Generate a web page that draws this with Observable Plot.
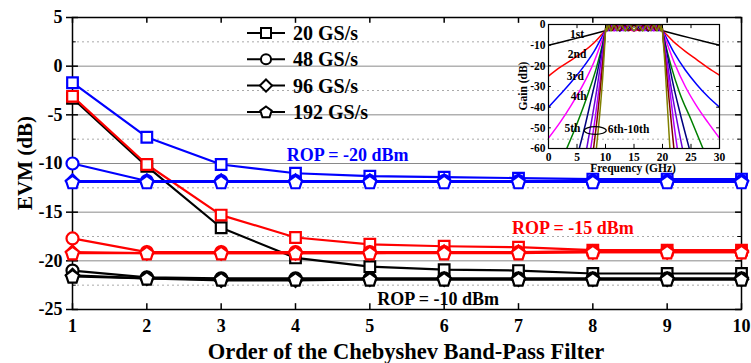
<!DOCTYPE html>
<html><head><meta charset="utf-8">
<script src="https://cdn.jsdelivr.net/npm/d3@7"></script>
<script src="https://cdn.jsdelivr.net/npm/@observablehq/plot@0.6"></script>
<style>
body{margin:0;background:#fff;}
#wrap{position:relative;width:751px;height:363px;overflow:hidden;}
#wrap > *{position:absolute;}
</style></head><body><div id="wrap"></div>
<script>
// ---------------- data ----------------
const orders = [1, 2, 3, 4, 5, 6, 7, 8, 9, 10];
const rates = ["20 GS/s", "48 GS/s", "96 GS/s", "192 GS/s"];
const ropLabels = ["ROP = -10 dBm", "ROP = -15 dBm", "ROP = -20 dBm"];
const yTicks = [5, 0, -5, -10, -15, -20, -25];
const yMajorGrid = [0, -5, -10, -15, -20];
const yMinorGrid = [2.5, -2.5, -7.5, -12.5, -17.5, -22.5];

// ROP = -10 dBm (black)
const evm10_20 = [-3.3, -10.3, -16.6, -19.7, -20.6, -20.9, -21.0, -21.3, -21.3, -21.3];
const evm10_48 = [-21.0, -21.7, -21.8, -21.8, -21.8, -21.8, -21.8, -21.8, -21.8, -21.8];
const evm10_96 = [-21.5, -21.8, -22.0, -22.0, -21.9, -21.9, -21.9, -21.9, -21.9, -21.9];
const evm10_192 = [-21.6, -21.8, -21.9, -21.9, -21.9, -21.9, -21.9, -21.9, -21.9, -21.9];
// ROP = -15 dBm (red)
const evm15_20 = [-3.1, -10.1, -15.3, -17.6, -18.3, -18.5, -18.6, -18.9, -18.9, -18.9];
const evm15_48 = [-17.7, -19.1, -19.1, -19.1, -19.1, -19.1, -19.1, -19.0, -19.0, -19.0];
const evm15_96 = [-19.1, -19.2, -19.2, -19.2, -19.2, -19.1, -19.1, -19.1, -19.1, -19.1];
const evm15_192 = [-19.2, -19.2, -19.2, -19.2, -19.2, -19.2, -19.2, -19.1, -19.1, -19.1];
// ROP = -20 dBm (blue)
const evm20_20 = [-1.7, -7.3, -10.1, -11.0, -11.3, -11.4, -11.5, -11.6, -11.6, -11.6];
const evm20_48 = [-10.0, -11.8, -11.8, -11.8, -11.8, -11.8, -11.8, -11.8, -11.8, -11.8];
const evm20_96 = [-11.8, -11.8, -11.8, -11.8, -11.8, -11.8, -11.8, -11.8, -11.8, -11.8];
const evm20_192 = [-11.9, -11.9, -11.9, -11.9, -11.9, -11.9, -11.9, -11.9, -11.9, -11.9];

// inset: filter gain (dB) vs frequency (GHz), [f, g] pairs per order
const insetOrders = ["1st", "2nd", "3rd", "4th", "5th", "6th", "7th", "8th", "9th", "10th"];
const gain1 = [[0,-10],[2.5,-8.3],[5,-6.6],[7.5,-4.8],[10,-3],[15,0],[20,-3],[22.5,-4.8],[25,-6.6],[27.5,-8.3],[30,-10]];
const gain2 = [[0,-25],[2,-20.8],[4,-17.2],[6,-13.4],[8,-8.8],[10,-3],[11.5,0],[15,-3],[18.5,0],[20,-3],[22,-8.5],[24,-13],[26,-17],[28,-21],[30,-24.5]];
const gain3 = [[0,-40],[2,-34],[4,-27.8],[6,-21],[8,-13],[10,-3],[10.7,0],[12.5,-3],[15,0],[17.5,-3],[19.3,0],[20,-3],[22,-13.5],[24,-22],[26,-29],[28,-35],[30,-40]];
const gain4 = [[0,-55],[2,-47.5],[4,-39],[6,-29.5],[8,-18],[10,-3],[10.4,0],[11.5,-3],[13.1,0],[15,-3],[16.9,0],[18.5,-3],[19.6,0],[20,-3],[22,-18],[24,-30],[26,-39.5],[28,-47.5],[30,-55]];
const gain5 = [[3.2,-60],[5,-48],[7,-33],[8.5,-20],[10,-3],[10.2,0],[11,-3],[12.1,0],[13.5,-3],[15,0],[16.5,-3],[17.9,0],[19,-3],[19.8,0],[20,-3],[21.5,-20],[23,-33],[25,-46],[27.1,-60]];
const gain6 = [[5.4,-60],[6.5,-48],[7.5,-36],[8.5,-24],[9.3,-13],[10,-3],[10.2,0],[10.7,-3],[11.5,0],[12.5,-3],[13.7,0],[15,-3],[16.3,0],[17.5,-3],[18.5,0],[19.3,-3],[19.8,0],[20,-3],[20.8,-14],[21.8,-28],[23,-42],[24.7,-60]];
const gain7 = [[6.7,-60],[7.6,-46],[8.5,-31],[9.3,-16],[10,-3],[10.1,0],[10.5,-3],[11.1,0],[11.9,-3],[12.8,0],[13.9,-3],[15,0],[16.1,-3],[17.2,0],[18.1,-3],[18.9,0],[19.5,-3],[19.9,0],[20,-3],[20.7,-16],[21.6,-32],[22.5,-46],[23.5,-60]];
const gain8 = [[7.4,-60],[8.2,-45],[9,-28],[9.6,-14],[10,-3],[10.1,0],[10.4,-3],[10.8,0],[11.5,-3],[12.2,0],[13.1,-3],[14,0],[15,-3],[16,0],[16.9,-3],[17.8,0],[18.5,-3],[19.2,0],[19.6,-3],[19.9,0],[20,-3],[20.6,-16],[21.3,-32],[21.9,-46],[22.6,-60]];
const gain9 = [[7.9,-60],[8.6,-44],[9.2,-28],[9.7,-13],[10,-3],[10.08,0],[10.3,-3],[10.7,0],[11.2,-3],[11.8,0],[12.5,-3],[13.3,0],[14.1,-3],[15,0],[15.9,-3],[16.7,0],[17.5,-3],[18.2,0],[18.8,-3],[19.3,0],[19.7,-3],[19.92,0],[20,-3],[20.5,-17],[21,-32],[21.5,-46],[22,-60]];
const gain10 = [[8.4,-60],[9,-43],[9.5,-26],[9.8,-13],[10,-3],[10.06,0],[10.24,-3],[10.54,0],[10.95,-3],[11.46,0],[12.06,-3],[12.73,0],[13.45,-3],[14.22,0],[15,-3],[15.78,0],[16.55,-3],[17.27,0],[17.94,-3],[18.54,0],[19.05,-3],[19.46,0],[19.76,-3],[19.94,0],[20,-3],[20.4,-18],[20.7,-32],[21,-46],[21.3,-60]];
const insetXTicks = [0, 5, 10, 15, 20, 25, 30];
const insetYTicks = [0, -10, -20, -30, -40, -50, -60];
const insetLabels = ["1st", "2nd", "3rd", "4th", "5th", "6th-10th"];

// ---------------- styling / assembly ----------------
const FONT = "'Liberation Serif','Times New Roman',serif";
const ropColors = ["#000000", "#ff0000", "#0000ff"];
const orderColors = ["#000000","#ff0000","#0000ff","#ff00ff","#008000","#000080","#6a00d8","#b000ff","#800000","#808000"];

const pentagon = {
  draw(ctx, size) {
    const r = Math.sqrt(size / 2.378);
    for (let i = 0; i < 5; i++) {
      const a = -Math.PI / 2 + i * 2 * Math.PI / 5;
      const x = r * Math.cos(a), y = r * Math.sin(a) + r * 0.1;
      if (i === 0) ctx.moveTo(x, y); else ctx.lineTo(x, y);
    }
    ctx.closePath();
  }
};
const ellipse = {
  draw(ctx) {
    const rx = 11, ry = 3.8, k = 0.5523;
    ctx.moveTo(rx, 0);
    ctx.bezierCurveTo(rx, ry * k, rx * k, ry, 0, ry);
    ctx.bezierCurveTo(-rx * k, ry, -rx, ry * k, -rx, 0);
    ctx.bezierCurveTo(-rx, -ry * k, -rx * k, -ry, 0, -ry);
    ctx.bezierCurveTo(rx * k, -ry, rx, -ry * k, rx, 0);
    ctx.closePath();
  }
};
const rateSymbols = ["square", "circle", "diamond2", pentagon];

const evmByRop = [
  [evm10_20, evm10_48, evm10_96, evm10_192],
  [evm15_20, evm15_48, evm15_96, evm15_192],
  [evm20_20, evm20_48, evm20_96, evm20_192]
];
const seriesList = [];
evmByRop.forEach((group, ri) => group.forEach((vals, si) => {
  seriesList.push({
    key: ri * 4 + si, color: ropColors[ri], symbol: rateSymbols[si],
    rows: orders.map((o, i) => ({order: o, evm: vals[i], key: ri * 4 + si, color: ropColors[ri]}))
  });
}));
const allRows = seriesList.flatMap(s => s.rows);

const annotations = [
  {text: ropLabels[2], x: 4.70, y: -9.2, color: ropColors[2]},
  {text: ropLabels[1], x: 7.73, y: -16.7, color: ropColors[1]},
  {text: ropLabels[0], x: 5.92, y: -23.9, color: ropColors[0]}
];

const main = Plot.plot({
  width: 751, height: 363,
  marginLeft: 72, marginRight: 10, marginTop: 17, marginBottom: 54,
  x: {domain: [1, 10]},
  y: {domain: [-25, 5]},
  color: {type: "identity"},
  style: {fontFamily: FONT, fontWeight: "bold", fontSize: "18px", background: "transparent", color: "black"},
  marks: [
    Plot.ruleY(yMinorGrid, {y: d => d, stroke: "#aaaaaa", strokeDasharray: "2,3", strokeWidth: 1}),
    Plot.ruleY(yMajorGrid, {y: d => d, stroke: "#8a8a8a", strokeWidth: 1}),
    Plot.axisY({ticks: yTicks, tickSize: 6, tickPadding: 4, tickFormat: d => String(d), label: null, fontSize: 18, fontWeight: "bold", strokeWidth: 1.5}),
    Plot.axisX({ticks: orders, tickSize: 0, tickPadding: 10, tickFormat: d => String(d), label: null, fontSize: 18, fontWeight: "bold"}),
    Plot.ruleX(orders, {x: d => d, y1: -25, y2: -24.4, stroke: "black", strokeWidth: 1.5}),
    Plot.ruleX(orders, {x: d => d, y1: 5, y2: 4.4, stroke: "black", strokeWidth: 1.5}),
    Plot.ruleY(yTicks, {y: d => d, x1: 1, x2: 1.08, stroke: "black", strokeWidth: 1.5}),
    Plot.ruleY(yMinorGrid, {y: d => d, x1: 1, x2: 1.05, stroke: "black", strokeWidth: 1}),
    Plot.ruleY(yTicks, {y: d => d, x1: 9.92, x2: 10, stroke: "black", strokeWidth: 1.5}),
    Plot.ruleY(yMinorGrid, {y: d => d, x1: 9.95, x2: 10, stroke: "black", strokeWidth: 1}),
    Plot.frame({stroke: "black", strokeWidth: 1.5}),
    Plot.line(allRows, {x: "order", y: "evm", z: "key", stroke: "color", strokeWidth: 2.2}),
    ...seriesList.map(s => Plot.dot(s.rows, {x: "order", y: "evm", symbol: s.symbol, r: 6, stroke: s.color, fill: "white", strokeWidth: 2.2})),
    Plot.text(annotations, {x: "x", y: "y", text: "text", fill: "color", fontSize: 18, fontWeight: "bold", textAnchor: "middle", lineAnchor: "middle"})
  ]
});
main.style.left = "0px"; main.style.top = "0px";

const gainArrays = [gain1, gain2, gain3, gain4, gain5, gain6, gain7, gain8, gain9, gain10];
const gainRows = gainArrays.flatMap((arr, i) => arr.map(([f, g]) => ({f, g, order: insetOrders[i], color: orderColors[i]})));
const insetAnnMid = [
  {t: insetLabels[0], f: 5.0, g: -4.6},
  {t: insetLabels[1], f: 5.0, g: -14.3},
  {t: insetLabels[2], f: 4.7, g: -25},
  {t: insetLabels[3], f: 5.3, g: -34.8},
  {t: insetLabels[4], f: 4.2, g: -50}
];
const insetAnnStart = [{t: insetLabels[5], f: 10.4, g: -50.8}];
const inset = Plot.plot({
  width: 225, height: 175,
  marginLeft: 38, marginRight: 16, marginTop: 14, marginBottom: 37,
  x: {domain: [0, 30]},
  y: {domain: [-60, 0]},
  color: {type: "identity"},
  style: {fontFamily: FONT, fontWeight: "bold", fontSize: "11px", background: "transparent", color: "black"},
  marks: [
    Plot.axisX({ticks: insetXTicks, tickSize: 0, tickPadding: 4, tickFormat: d => String(d), label: null, fontSize: 11.5}),
    Plot.axisY({ticks: insetYTicks, tickSize: 0, tickPadding: 3, tickFormat: d => String(d), label: null, fontSize: 11.5}),
    Plot.line(gainRows, {x: "f", y: "g", z: "order", stroke: "color", strokeWidth: 1.5, curve: "monotone-x", clip: true}),
    Plot.ruleX(insetXTicks, {x: d => d, y1: -60, y2: -58, stroke: "black"}),
    Plot.ruleX(insetXTicks, {x: d => d, y1: 0, y2: -2, stroke: "black"}),
    Plot.ruleY(insetYTicks, {y: d => d, x1: 0, x2: 0.5, stroke: "black"}),
    Plot.ruleY(insetYTicks, {y: d => d, x1: 29.5, x2: 30, stroke: "black"}),
    Plot.frame({stroke: "black", strokeWidth: 1.2}),
    Plot.text(insetAnnMid, {x: "f", y: "g", text: "t", textAnchor: "middle", fontSize: 11.5, fontWeight: "bold", fill: "black", lineAnchor: "middle"}),
    Plot.text(insetAnnStart, {x: "f", y: "g", text: "t", textAnchor: "start", fontSize: 11.5, fontWeight: "bold", fill: "black", lineAnchor: "middle"}),
    Plot.dot([{f: 8.2, g: -51.3}], {x: "f", y: "g", symbol: ellipse, r: 5, stroke: "black", fill: "none", strokeWidth: 1.2})
  ]
});
inset.style.left = "510px"; inset.style.top = "10px";

const wrap = document.getElementById("wrap");
wrap.appendChild(main);
wrap.appendChild(inset);

// overlay: axis titles and legend
const ov = d3.select(wrap).append("svg").attr("width", 751).attr("height", 363)
  .style("left", "0px").style("top", "0px")
  .attr("font-family", FONT).attr("font-weight", "bold");
ov.append("text").text("EVM (dB)").attr("transform", "translate(25,163) rotate(-90)")
  .attr("text-anchor", "middle").attr("dominant-baseline", "central").attr("font-size", 21);
ov.append("text").text("Order of the Chebyshev Band-Pass Filter").attr("x", 406).attr("y", 351)
  .attr("text-anchor", "middle").attr("dominant-baseline", "central").attr("font-size", 22.5);
ov.append("text").text("Gain (dB)").attr("transform", "translate(523,86) rotate(-90)")
  .attr("text-anchor", "middle").attr("dominant-baseline", "central").attr("font-size", 11.5);
ov.append("text").text("Frequency (GHz)").attr("x", 633).attr("y", 168)
  .attr("text-anchor", "middle").attr("dominant-baseline", "central").attr("font-size", 11.5);

const legendSizes = [100, 80, 95, 85];
const legendSymbols = [d3.symbolSquare, d3.symbolCircle, d3.symbolDiamond2, pentagon];
rates.forEach((r, i) => {
  const y = 33 + i * 26.3;
  const g = ov.append("g").attr("transform", `translate(0,${y})`);
  g.append("line").attr("x1", 247).attr("x2", 285).attr("y1", 0).attr("y2", 0).attr("stroke", "black").attr("stroke-width", 2);
  g.append("path").attr("d", d3.symbol(legendSymbols[i], legendSizes[i])()).attr("transform", "translate(266,0)")
    .attr("fill", "white").attr("stroke", "black").attr("stroke-width", 2);
  g.append("text").text(r).attr("x", 293).attr("y", 0).attr("dominant-baseline", "central").attr("font-size", 20);
});
</script></body></html>
